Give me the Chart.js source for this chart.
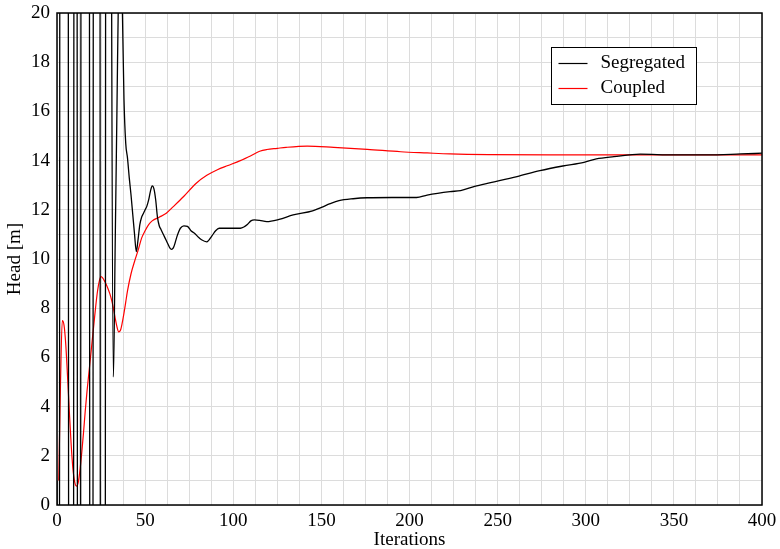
<!DOCTYPE html>
<html>
<head>
<meta charset="utf-8">
<script src="https://cdn.jsdelivr.net/npm/chart.js@4.4.1/dist/chart.umd.min.js"></script>
<style>
  html, body { margin: 0; padding: 0; background: #fff; }
  #wrap { width: 780px; height: 549px; }
</style>
</head>
<body>
<div id="wrap"><canvas id="c" width="780" height="549"></canvas></div>
<script>
// ---- Data ----
const seriesNames = ["Segregated", "Coupled"];

// Segregated (black): iteration numbers and head values [m]
const segIter = [0,1,2,3,4,5,6,7,8,9,10,11,12,13,14,15,16,17,18,19,20,21,22,23,24,25,26,27,28,29,30,
  31,32,33,34,35,36,37,38,39,40,41,42,43,44,45,46,47,48,49,50,51,52,53,54,55,56,57,58,59,60,
  61,62,63,64,65,66,67,68,69,70,72,74,76,78,80,82,85,88,90,92,94,100,104,106,108,110,112,115,119,
  126,134,145,150,155,160,168,176,190,204,210,223,229,237,246,261,274,287,299,306,316,331,350,369,388,400];
const segHead = [1.0,-40,60,60,60,60,60,-40,-40,-40,60,60,-40,-40,60,60,60,60,60,-40,-40,60,60,60,60,-40,-40,-40,60,60,60,
  20.5,5.2,10.5,16,21.5,24,20.5,16.5,14.7,14.1,13.3,12.6,11.8,11.0,10.3,10.8,11.4,11.7,11.85,12.0,
  12.15,12.4,12.75,12.97,12.85,12.4,11.7,11.35,11.2,11.05,
  10.9,10.75,10.6,10.45,10.39,10.45,10.65,10.9,11.1,11.25,11.35,11.33,11.15,11.05,10.9,10.78,10.7,10.95,11.15,11.25,11.25,11.25,11.25,11.3,11.4,11.55,11.59,11.57,11.52,
  11.61,11.79,11.96,12.1,12.25,12.37,12.45,12.49,12.5,12.5,12.6,12.74,12.78,12.95,13.1,13.35,13.59,13.78,13.93,14.07,14.16,14.26,14.23,14.23,14.27,14.3];

// Coupled (red): iteration numbers and head values [m]
const coupIter = [1,2,3,4,5,6,7,8,9,10,11,12,13,14,15,16,17,18,19,20,21,22,23,24,25,26,27,28,29,30,
  31,32,33,34,35,36,37,38,39,40,42,44,46,48,50,52,54,58,62,66,72,79,85,91,97,104,110,115,119,125,130,
  142,157,176,195,210,223,245,280,330,400];
const coupHead = [1.0,5.0,7.5,7.3,6.5,5.2,3.8,2.5,1.5,0.95,0.77,0.9,1.4,2.1,2.9,3.8,4.6,5.3,6.0,6.7,7.4,8.1,8.7,9.1,9.28,9.22,9.1,8.95,8.78,8.58,
  8.33,8.0,7.6,7.25,7.04,7.1,7.4,7.8,8.25,8.7,9.4,9.9,10.35,10.85,11.15,11.4,11.55,11.7,11.86,12.13,12.55,13.08,13.4,13.63,13.8,14.0,14.2,14.38,14.45,14.5,14.54,
  14.59,14.54,14.46,14.36,14.31,14.27,14.24,14.23,14.23,14.23];

// Axis settings
const xMin = 0, xMax = 400, xGridStep = 12.5, xLabelStep = 50;
const yMin = 0, yMax = 20, yGridStep = 1, yLabelStep = 2;
const xTitle = "Iterations";
const yTitle = "Head [m]";

const FONT = "'Liberation Serif', 'DejaVu Serif', serif";

const frameAndLegend = {
  id: 'frameAndLegend',
  afterDraw(chart) {
    const ctx = chart.ctx;
    const a = chart.chartArea;
    ctx.save();
    // frame
    ctx.strokeStyle = '#000';
    ctx.lineWidth = 1.5;
    ctx.strokeRect(a.left, a.top, a.right - a.left, a.bottom - a.top);
    // legend box
    const bx = 551.5, by = 47.5, bw = 145, bh = 57;
    ctx.fillStyle = '#fff';
    ctx.fillRect(bx, by, bw, bh);
    ctx.lineWidth = 1;
    ctx.strokeStyle = '#000';
    ctx.strokeRect(bx, by, bw, bh);
    ctx.font = "19px " + FONT;
    ctx.textBaseline = 'middle';
    ctx.textAlign = 'left';
    chart.data.datasets.forEach((ds, i) => {
      const y = by + 16 + i * 25;
      ctx.strokeStyle = ds.borderColor;
      ctx.lineWidth = 1.2;
      ctx.beginPath();
      ctx.moveTo(bx + 7, y);
      ctx.lineTo(bx + 36, y);
      ctx.stroke();
      ctx.fillStyle = '#000';
      ctx.fillText(ds.label, bx + 49, y);
    });
    ctx.restore();
  }
};

const toPts = (xs, ys) => xs.map((x, i) => ({ x: x, y: ys[i] }));

new Chart(document.getElementById('c'), {
  type: 'line',
  data: {
    datasets: [
      {
        label: seriesNames[0],
        data: toPts(segIter, segHead),
        borderColor: '#000000',
        borderWidth: 1.3,
        pointRadius: 0,
        fill: false,
        cubicInterpolationMode: 'monotone'
      },
      {
        label: seriesNames[1],
        data: toPts(coupIter, coupHead),
        borderColor: '#ff0000',
        borderWidth: 1.2,
        pointRadius: 0,
        fill: false,
        cubicInterpolationMode: 'monotone'
      }
    ]
  },
  options: {
    responsive: false,
    animation: false,
    devicePixelRatio: 1,
    layout: { padding: { left: 4, right: 18, top: 13, bottom: 0 } },
    plugins: {
      legend: { display: false },
      tooltip: { enabled: false }
    },
    scales: {
      x: {
        type: 'linear',
        min: xMin, max: xMax,
        afterFit(scale) { scale.height = 44; scale.paddingLeft = 0; scale.paddingRight = 0; },
        border: { display: false },
        grid: { color: '#dcdcdc', lineWidth: 1, drawTicks: false },
        ticks: {
          stepSize: xGridStep,
          autoSkip: false,
          maxRotation: 0,
          padding: 5,
          color: '#000',
          font: { family: FONT, size: 19 },
          callback: (v) => (v % xLabelStep === 0 ? String(v) : '')
        },
        title: {
          display: true, text: xTitle, color: '#000',
          font: { family: FONT, size: 19, lineHeight: 0.9 },
          padding: { top: 0, bottom: 0 }
        }
      },
      y: {
        type: 'linear',
        min: yMin, max: yMax,
        afterFit(scale) { scale.width = 53; },
        border: { display: false },
        grid: { color: '#dcdcdc', lineWidth: 1, drawTicks: false },
        ticks: {
          stepSize: yGridStep,
          autoSkip: false,
          padding: 7,
          color: '#000',
          font: { family: FONT, size: 19, lineHeight: 0.6 },
          callback: (v) => (v % yLabelStep === 0 ? String(v) : '')
        },
        title: {
          display: true, text: yTitle, color: '#000',
          font: { family: FONT, size: 19, lineHeight: 1.2 },
          padding: { top: 0, bottom: 0 }
        }
      }
    }
  },
  plugins: [frameAndLegend]
});
</script>
</body>
</html>
